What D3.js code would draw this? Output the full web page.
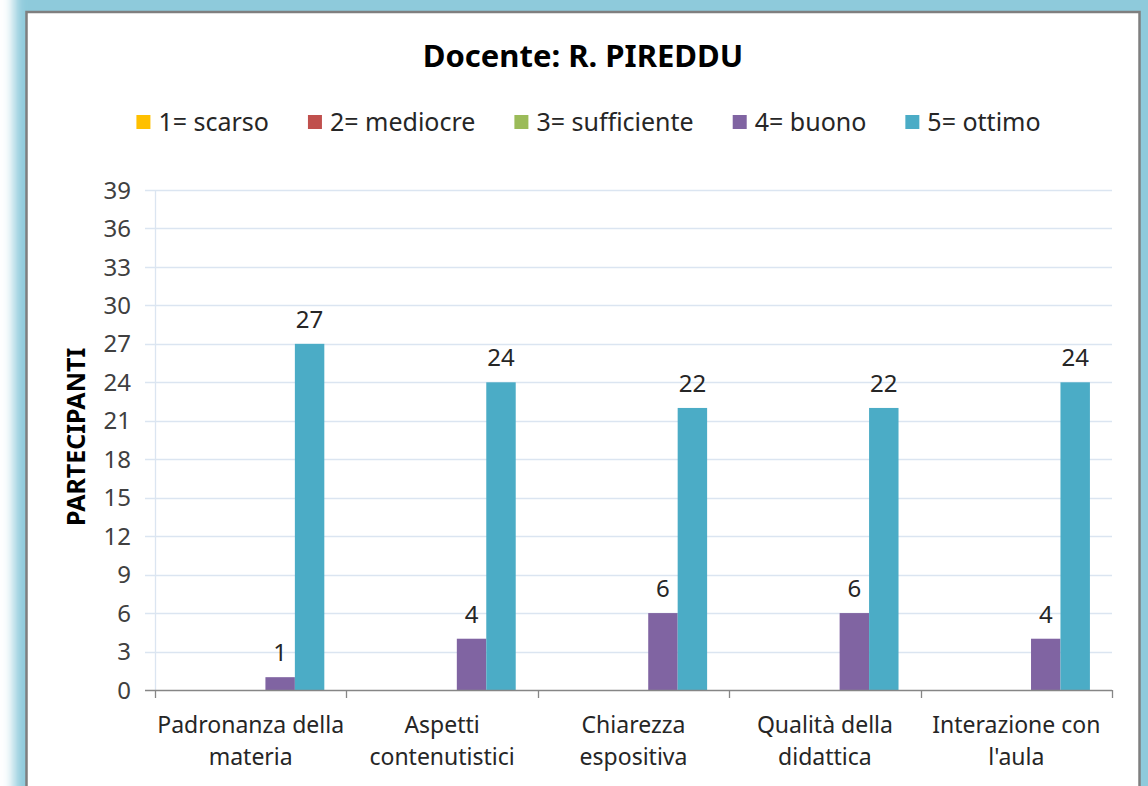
<!DOCTYPE html>
<html><head><meta charset="utf-8">
<script src="https://cdn.jsdelivr.net/npm/d3@7"></script>
<style>
html,body{margin:0;padding:0;background:#fff;}
svg{display:block;}
text{font-family:"Noto Sans","Open Sans",sans-serif;}
</style></head>
<body>
<script>
const categories = [["Padronanza della","materia"],["Aspetti","contenutistici"],["Chiarezza","espositiva"],["Qualità della","didattica"],["Interazione con","l'aula"]];
const seriesNames = ["1= scarso","2= mediocre","3= sufficiente","4= buono","5= ottimo"];
const seriesColors = ["#FFC000","#C0504D","#9BBB59","#8064A2","#4BACC6"];
const s1 = [0,0,0,0,0];
const s2 = [0,0,0,0,0];
const s3 = [0,0,0,0,0];
const s4 = [1,4,6,6,4];
const s5 = [27,24,22,22,24];
const yTicks = [0,3,6,9,12,15,18,21,24,27,30,33,36,39];
const title = "Docente: R. PIREDDU";
const yTitle = "PARTECIPANTI";

const W=1148,H=786;
const svg=d3.select("body").append("svg").attr("width",W).attr("height",H);
const defs=svg.append("defs");
const f=defs.append("filter").attr("id","glow").attr("x","-10%").attr("y","-10%").attr("width","120%").attr("height","120%");
f.append("feGaussianBlur").attr("stdDeviation",6);
svg.append("rect").attr("x",14).attr("y",-30).attr("width",1180).attr("height",860).attr("fill","#8ecadb").attr("filter","url(#glow)");
svg.append("rect").attr("x",26.5).attr("y",12).attr("width",1113).attr("height",820).attr("fill","#fff").attr("stroke","#7f7f7f").attr("stroke-width",2.5);

const x0=155,x1=1112,y0=690,y1=190;
const x=d3.scaleBand().domain(d3.range(categories.length)).range([x0,x1]).paddingInner(0).paddingOuter(0);
const bw=x.bandwidth()/(seriesNames.length+1.5);
const xs=d3.scaleBand().domain(d3.range(seriesNames.length)).range([x.bandwidth()/2-bw*2.5,x.bandwidth()/2+bw*2.5]);
const y=d3.scaleLinear().domain([0,39]).range([y0,y1]);

// gridlines
const g=svg.append("g");
g.selectAll("line.grid").data(yTicks.filter(d=>d>0)).enter().append("line")
 .attr("x1",x0-10).attr("x2",x1).attr("y1",d=>Math.round(y(d))+0.5).attr("y2",d=>Math.round(y(d))+0.5)
 .attr("stroke","#dbe5f1").attr("stroke-width",1.3);
// y axis line
g.append("line").attr("x1",x0+0.5).attr("x2",x0+0.5).attr("y1",y1).attr("y2",y0).attr("stroke","#dbe5f1").attr("stroke-width",1.3);
// y labels
g.selectAll("text.yl").data(yTicks).enter().append("text")
 .attr("x",131).attr("y",d=>y(d)).attr("dy","0.36em").attr("text-anchor","end")
 .attr("font-size",24).attr("fill","#404040").text(d=>d);

const series=[s1,s2,s3,s4,s5];
series.forEach((vals,si)=>{
  svg.append("g").selectAll("rect").data(vals).enter().append("rect")
   .attr("x",(d,i)=>x(i)+xs(si)).attr("width",xs.bandwidth())
   .attr("y",d=>y(d)).attr("height",d=>y(0)-y(d)).attr("fill",seriesColors[si]);
  vals.forEach((d,i)=>{
    if(d>0){
      svg.append("text").attr("x",x(i)+xs(si)+xs.bandwidth()/2).attr("y",y(d)-16)
       .attr("text-anchor","middle").attr("font-size",24).attr("fill","#262626").text(d);
    }
  });
});

// x axis
svg.append("line").attr("x1",x0-10).attr("x2",x1).attr("y1",y0+0.5).attr("y2",y0+0.5).attr("stroke","#868686").attr("stroke-width",1.3);
const bounds=d3.range(categories.length+1).map(i=>x0+i*x.bandwidth());
svg.selectAll("line.xt").data(bounds).enter().append("line")
 .attr("x1",d=>Math.round(d)+0.5).attr("x2",d=>Math.round(d)+0.5).attr("y1",y0).attr("y2",y0+8).attr("stroke","#868686").attr("stroke-width",1.3);
categories.forEach((c,i)=>{
  const t=svg.append("text").attr("text-anchor","middle").attr("font-size",23).attr("fill","#262626");
  c.forEach((l,j)=>t.append("tspan").attr("x",x(i)+x.bandwidth()/2).attr("y",733+j*32).text(l));
});

// title
svg.append("text").attr("x",583).attr("y",67).attr("text-anchor","middle").attr("font-size",31).attr("font-weight","bold").attr("fill","#000").text(title);

// y title
svg.append("text").attr("transform","translate(85,437) rotate(-90)").attr("text-anchor","middle")
 .attr("font-size",25).attr("font-weight","bold").attr("fill","#000").text(yTitle);

// legend
const lg=svg.append("g");
let cx=0;
const gap=39;
seriesNames.forEach((n,i)=>{
  const it=lg.append("g");
  it.append("rect").attr("x",0).attr("y",-7).attr("width",14).attr("height",14).attr("fill",seriesColors[i]);
  const t=it.append("text").attr("x",22).attr("y",0).attr("dy","0.36em").attr("font-size",25).attr("fill","#262626").text(n);
  const w=22+t.node().getComputedTextLength();
  it.attr("transform",`translate(${cx},122)`);
  cx+=w+gap;
});
const total=cx-gap;
lg.attr("transform",`translate(${588.5-total/2},0)`);
</script>
</body></html>
